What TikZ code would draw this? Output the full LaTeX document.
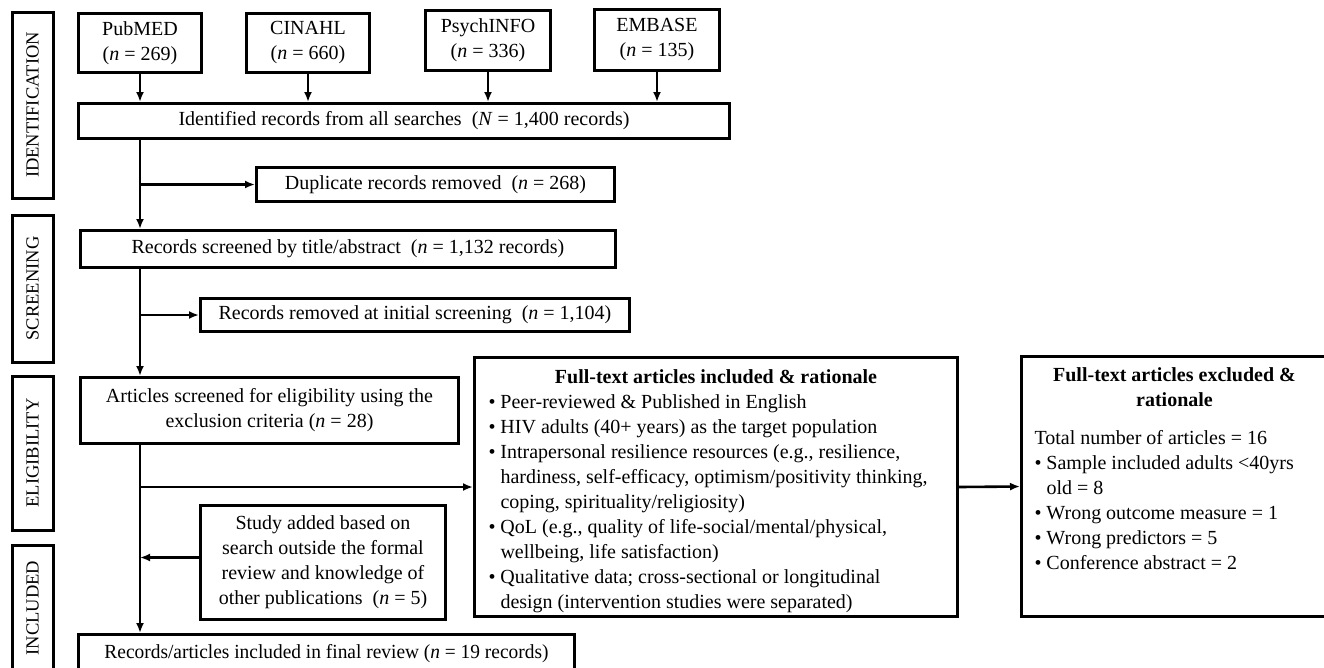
\documentclass[tikz,border=0pt]{standalone}
\usepackage{fontspec}
\setmainfont{Liberation Serif}
\usetikzlibrary{arrows.meta,calc}
\newcommand\bul{\makebox[12pt][l]{\textbullet}}
\newcommand\ind{\hspace*{12pt}}
\begin{document}
\begin{tikzpicture}[x=1pt,y=-1pt,
  font=\fontsize{20}{25}\selectfont,
  box/.style={draw, line width=3pt, inner sep=0pt, align=center, anchor=north west},
  phase/.style={draw, line width=3pt, inner sep=0pt, rotate=90, minimum height=41pt, font=\fontsize{18.5}{22}\selectfont},
  arr/.style={line width=2.6pt, -{Latex[length=10pt,width=8pt]}}]
\useasboundingbox (0,0) rectangle (1324,667);

% phase labels
\node[phase, minimum width=186pt] (pid) at (32.5,105) {IDENTIFICATION};
\node[phase, minimum width=147pt] (psc) at (32.5,288.5) {SCREENING};
\node[phase, minimum width=154pt] (pel) at (32.5,453) {ELIGIBILITY};
\node[phase, minimum width=126pt] (pin) at (32.5,608) {INCLUDED};

% sources
\node[box, minimum width=123pt, minimum height=59pt] (pub) at (77,12) {PubMED\\(\textit{n} = 269)};
\node[box, minimum width=123pt, minimum height=59pt] (cin) at (245,12) {CINAHL\\(\textit{n} = 660)};
\node[box, minimum width=125pt, minimum height=60pt] (psy) at (424,9) {PsychINFO\\(\textit{n} = 336)};
\node[box, minimum width=125pt, minimum height=61pt] (emb) at (593,8) {EMBASE\\(\textit{n} = 135)};

\node[box, minimum width=651pt, minimum height=35pt] (idf) at (77,102) {Identified records from all searches~ (\textit{N} = 1,400 records)};
\node[box, minimum width=358pt, minimum height=34pt] (dup) at (255,166) {Duplicate records removed~ (\textit{n} = 268)};
\node[box, minimum width=535pt, minimum height=37pt] (scr) at (79,229) {Records screened by title/abstract~ (\textit{n} = 1,132 records)};
\node[box, minimum width=429pt, minimum height=33pt] (rem) at (199,297) {Records removed at initial screening~ (\textit{n} = 1,104)};
\node[box, minimum width=378pt, minimum height=66pt] (art) at (79,376) {Articles screened for eligibility using the\\exclusion criteria (\textit{n} = 28)};
\node[box, minimum width=245pt, minimum height=114pt] (std) at (199,504) {Study added based on\\search outside the formal\\review and knowledge of\\other publications~ (\textit{n} = 5)};
\node[box, minimum width=496pt, minimum height=38pt] (fin) at (77,633) {\scalebox{0.97}[1]{Records/articles included in final review (\textit{n} = 19 records)}};

\node[box, align=left, minimum width=483pt, minimum height=259pt] (inc) at (473,356) {%
\makebox[455pt]{\rule{0pt}{22pt}\bfseries Full-text articles included \& rationale}\\
\bul Peer-reviewed \& Published in English\\
\bul HIV adults (40+ years) as the target population\\
\bul Intrapersonal resilience resources (e.g., resilience,\\
\ind hardiness, self-efficacy, optimism/positivity thinking,\\
\ind coping, spirituality/religiosity)\\
\bul QoL (e.g., quality of life-social/mental/physical,\\
\ind wellbeing, life satisfaction)\\
\bul Qualitative data; cross-sectional or longitudinal\\
\ind design (intervention studies were separated)};

\node[box, align=left, minimum width=306pt, minimum height=260pt] (exc) at (1020,355) {%
\makebox[280pt]{\bfseries Full-text articles excluded \&}\\
\makebox[280pt]{\bfseries rationale}\\[13pt]
Total number of articles = 16\\
\bul Sample included adults <40yrs\\
\ind old = 8\\
\bul Wrong outcome measure = 1\\
\bul Wrong predictors = 5\\
\bul Conference abstract = 2\rule[-36pt]{0pt}{0pt}};

% connectors
\draw[arr] (pub.south) -- (pub.south |- idf.north);
\draw[arr] (cin.south) -- (cin.south |- idf.north);
\draw[arr] (psy.south) -- (psy.south |- idf.north);
\draw[arr] (emb.south) -- (emb.south |- idf.north);
\draw[arr] (pub.south |- idf.south) -- (pub.south |- scr.north);
\draw[arr] (pub.south |- dup.west) -- (dup.west);
\draw[arr] (pub.south |- scr.south) -- (pub.south |- art.north);
\draw[arr] (pub.south |- rem.west) -- (rem.west);
\draw[arr] (pub.south |- art.south) -- (pub.south |- fin.north);
\draw[arr] (pub.south |- inc.west) -- (inc.west);
\coordinate (sj) at ($(std.west)+(0,-5)$);
\draw[arr] (sj) -- (pub.south |- sj);
\draw[arr] (inc.east) -- (exc.west);
\end{tikzpicture}
\end{document}
